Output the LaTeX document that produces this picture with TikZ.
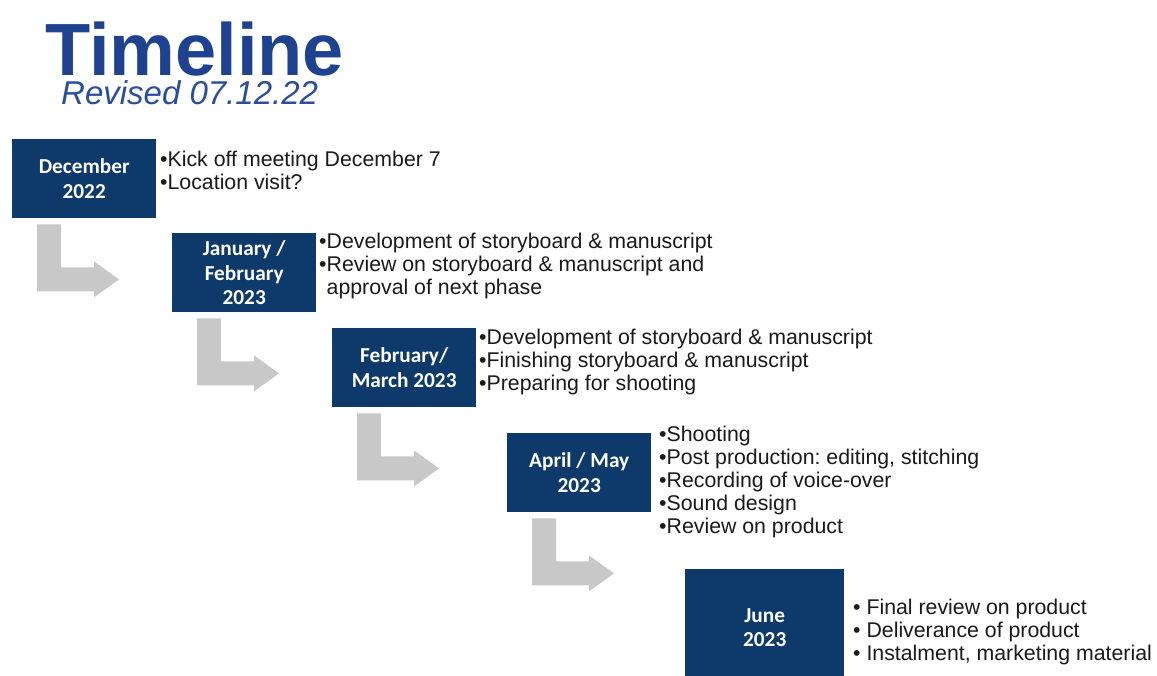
\documentclass[tikz,border=0pt]{standalone}
\usepackage{fontspec}
\setmainfont{Liberation Sans}
\newfontfamily\boxfont{Carlito}
\usetikzlibrary{calc}
\frenchspacing
\definecolor{navy}{HTML}{0D3A6B}
\definecolor{titleblue}{HTML}{1F4290}
\definecolor{revblue}{HTML}{2A4D9C}
\definecolor{arrowgray}{HTML}{C8C8C8}
\definecolor{txt}{HTML}{1A1A1A}
\tikzset{
  monthbox/.style={fill=navy, draw=none, inner sep=0pt, anchor=north west,
    minimum width=144pt, minimum height=79pt, text=white, align=center,
    font=\boxfont\bfseries\fontsize{21.3}{24.5}\selectfont},
  itemlist/.style={inner sep=0pt, anchor=north west, align=left, text=txt,
    font=\fontsize{21.3}{23}\selectfont},
  larrow/.style={fill=arrowgray, draw=none}
}
\newcommand{\bul}{\textbullet}
\begin{document}
\begin{tikzpicture}[x=1pt,y=-1pt]
\useasboundingbox[fill=white] (0,0) rectangle (1157,675);
% title
\node[anchor=base west, inner sep=0pt, text depth=0pt, text=titleblue, font=\bfseries\fontsize{74}{74}\selectfont] (title) at (45,75) {Timeline};
\node[anchor=base west, inner sep=0pt, text=revblue, font=\itshape\fontsize{33}{33}\selectfont] (rev) at (61,104) {Revised 07.12.22};
% boxes
\node[monthbox] (b1) at (12,139) {December\\2022};
\node[monthbox] (b2) at (172,233) {January /\\February\\2023};
\node[monthbox] (b3) at (332,328) {February/\\March 2023};
\node[monthbox] (b4) at (507,433) {April / May\\2023};
\node[monthbox, minimum width=159pt, minimum height=117pt] (b5) at (685,569) {June\\2023};
% item lists
\node[itemlist] (t1) at (160,150.5) {\bul Kick off meeting December 7\\\bul Location visit?};
\node[itemlist] (t2) at (319,232.5) {\bul Development of storyboard \& manuscript\\\bul Review on storyboard \& manuscript and\\\hphantom{\bul}approval of next phase};
\node[itemlist] (t3) at (479,328.5) {\bul Development of storyboard \& manuscript\\\bul Finishing storyboard \& manuscript\\\bul Preparing for shooting};
\node[itemlist] (t4) at (659,425.5) {\bul Shooting\\\bul Post production: editing, stitching\\\bul Recording of voice-over\\\bul Sound design\\\bul Review on product};
\node[itemlist] (t5) at (853,598.5) {\bul{} Final review on product\\\bul{} Deliverance of product\\\bul{} Instalment, marketing material};
% L-shaped arrows
\foreach \b in {b1,b2,b3,b4}{
  \fill[larrow] ($(\b.south west)+(25,6)$) -- ++(24,0) -- ++(0,43) -- ++(33,0) -- ++(0,-6)
    -- ++(25,18) -- ++(-25,18) -- ++(0,-6) -- ++(-57,0) -- cycle;
}
\end{tikzpicture}
\end{document}
